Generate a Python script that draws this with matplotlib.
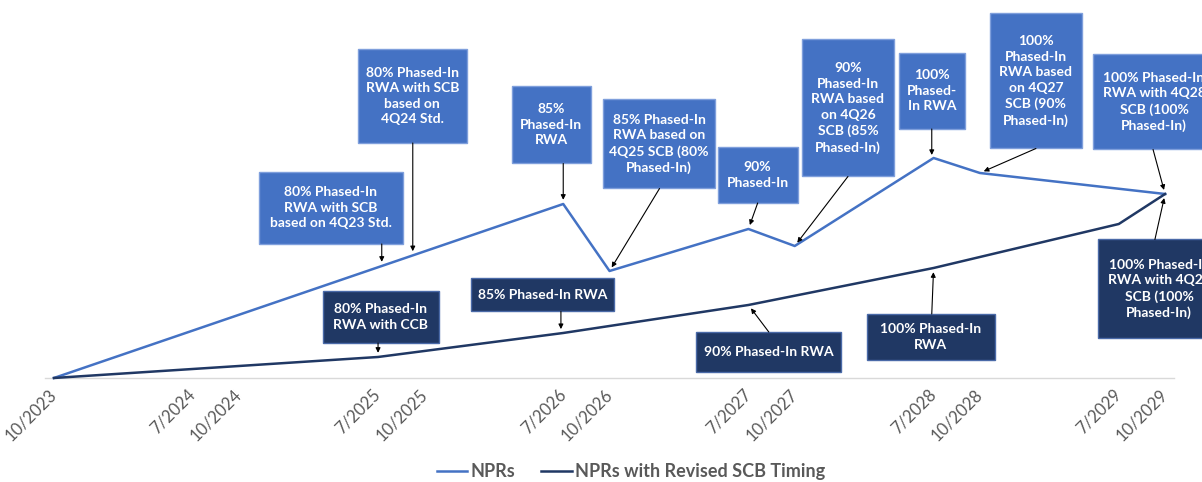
import matplotlib
matplotlib.use('Agg')
import matplotlib.pyplot as plt
from matplotlib.patches import Rectangle
from matplotlib.lines import Line2D
import numpy as np

plt.rcParams['font.family'] = ['Lato', 'DejaVu Sans']

# Eje de fechas (en trimestres desde 10/2023)
tick_q = [0, 3, 4, 7, 8, 11, 12, 15, 16, 19, 20, 23, 24]
tick_labels = ['10/2023', '7/2024', '10/2024', '7/2025', '10/2025', '7/2026', '10/2026',
               '7/2027', '10/2027', '7/2028', '10/2028', '7/2029', '10/2029']

# Series (nivel relativo)
npr_q = [0, 11, 12, 15, 16, 19, 20, 24]
npr_val = [0, 174, 107, 149, 132, 220, 205, 184]
rev_q = [0, 7, 11, 15, 19, 23, 24]
rev_val = [0, 21, 45, 73, 110, 154, 184]

light = '#4472C4'
dark = '#203864'

# Anotaciones: texto, serie, trimestre objetivo, centro caja (x, y), ancho, alto, x inicio flecha
notes = [
    ('80% Phased-In\nRWA with SCB\nbased on 4Q23 Std.', 'npr', 7.08, 5.98, 170, 3.11, 72, 7.08),
    ('80% Phased-In\nRWA with SCB\nbased on\n4Q24 Std.', 'npr', 7.75, 7.74, 282, 2.35, 94, 7.75),
    ('85%\nPhased-In\nRWA', 'npr', 11, 10.74, 253, 1.71, 77, 11),
    ('85% Phased-In\nRWA based on\n4Q25 SCB (80%\nPhased-In)', 'npr', 12, 13.07, 234, 2.42, 89, 13.08),
    ('90%\nPhased-In', 'npr', 15, 15.2, 203, 1.73, 56, 15.2),
    ('90%\nPhased-In\nRWA based\non 4Q26\nSCB (85%\nPhased-In)', 'npr', 16, 17.15, 270, 1.98, 137, 17.15),
    ('100%\nPhased-\nIn RWA', 'npr', 18.96, 18.96, 287, 1.43, 76, 18.96),
    ('100%\nPhased-In\nRWA based\non 4Q27\nSCB (90%\nPhased-In)', 'npr', 20, 21.21, 297, 1.98, 135, 21.21),
    ('100% Phased-In\nRWA with 4Q28\nSCB (100%\nPhased-In)', 'npr', 24, 23.76, 276, 2.64, 95, 23.74),
    ('80% Phased-In\nRWA with CCB', 'rev', 7.0, 7.06, 61, 2.51, 52, 7.0),
    ('85% Phased-In RWA', 'rev', 10.95, 10.55, 83, 3.09, 33, 10.95),
    ('90% Phased-In RWA', 'rev', 15, 15.43, 26, 3.13, 40, 15.44),
    ('100% Phased-In\nRWA', 'rev', 19, 18.94, 41, 2.76, 46, 18.96),
    ('100% Phased-In\nRWA with 4Q28\nSCB (100%\nPhased-In)', 'rev', 24, 23.87, 89, 2.63, 99, 23.78),
]

fig = plt.figure(figsize=(12.02, 4.82), dpi=100)
ax = fig.add_axes([0.0372, 0.2158, 0.9398, 0.7842])
ax.set_xlim(-0.2, 24.2)
ax.set_ylim(0, 378)

ax.axhline(0, color='#D9D9D9', lw=1, clip_on=False, zorder=1)
ax.plot(npr_q, npr_val, color=light, lw=1.8, clip_on=False, zorder=3)
ax.plot(rev_q, rev_val, color=dark, lw=1.8, clip_on=False, zorder=3)

for text, series, tq, cx, cy, w, h, sx in notes:
    if series == 'npr':
        ty = np.interp(tq, npr_q, npr_val)
        face, edge = light, '#7f9fdc'
    else:
        ty = np.interp(tq, rev_q, rev_val)
        face, edge = dark, '#4a6aa8'
    ax.add_patch(Rectangle((cx - w / 2, cy - h / 2), w, h, facecolor=face, edgecolor=edge,
                           lw=1, clip_on=False, zorder=4))
    ax.text(cx, cy, text, color='white', fontsize=10, fontweight='bold', ha='center',
            va='center', linespacing=1.35, clip_on=False, zorder=5)
    sy = cy - h / 2 if cy > ty else cy + h / 2
    ax.annotate('', xy=(tq, ty), xytext=(sx, sy),
                arrowprops=dict(arrowstyle='-|>', color='black', lw=0.8, mutation_scale=7,
                                shrinkA=0, shrinkB=3), zorder=4)

ax.set_xticks(tick_q)
ax.set_xticklabels(tick_labels, rotation=45, ha='right', va='center',
                   rotation_mode='anchor', fontsize=12, color='#595959')
ax.tick_params(axis='x', length=0, pad=10)
ax.set_yticks([])
for s in ax.spines.values():
    s.set_visible(False)

handles = [Line2D([], [], color=light, lw=1.8), Line2D([], [], color=dark, lw=1.8)]
fig.legend(handles, ['NPRs', 'NPRs with Revised SCB Timing'], loc='center',
           bbox_to_anchor=(0.525, 0.021), ncol=2, frameon=False,
           prop={'size': 13, 'weight': 'bold'}, labelcolor='#595959',
           handlelength=1.7, handletextpad=0.2, columnspacing=1.4)

fig.savefig('out.png', dpi=100)
